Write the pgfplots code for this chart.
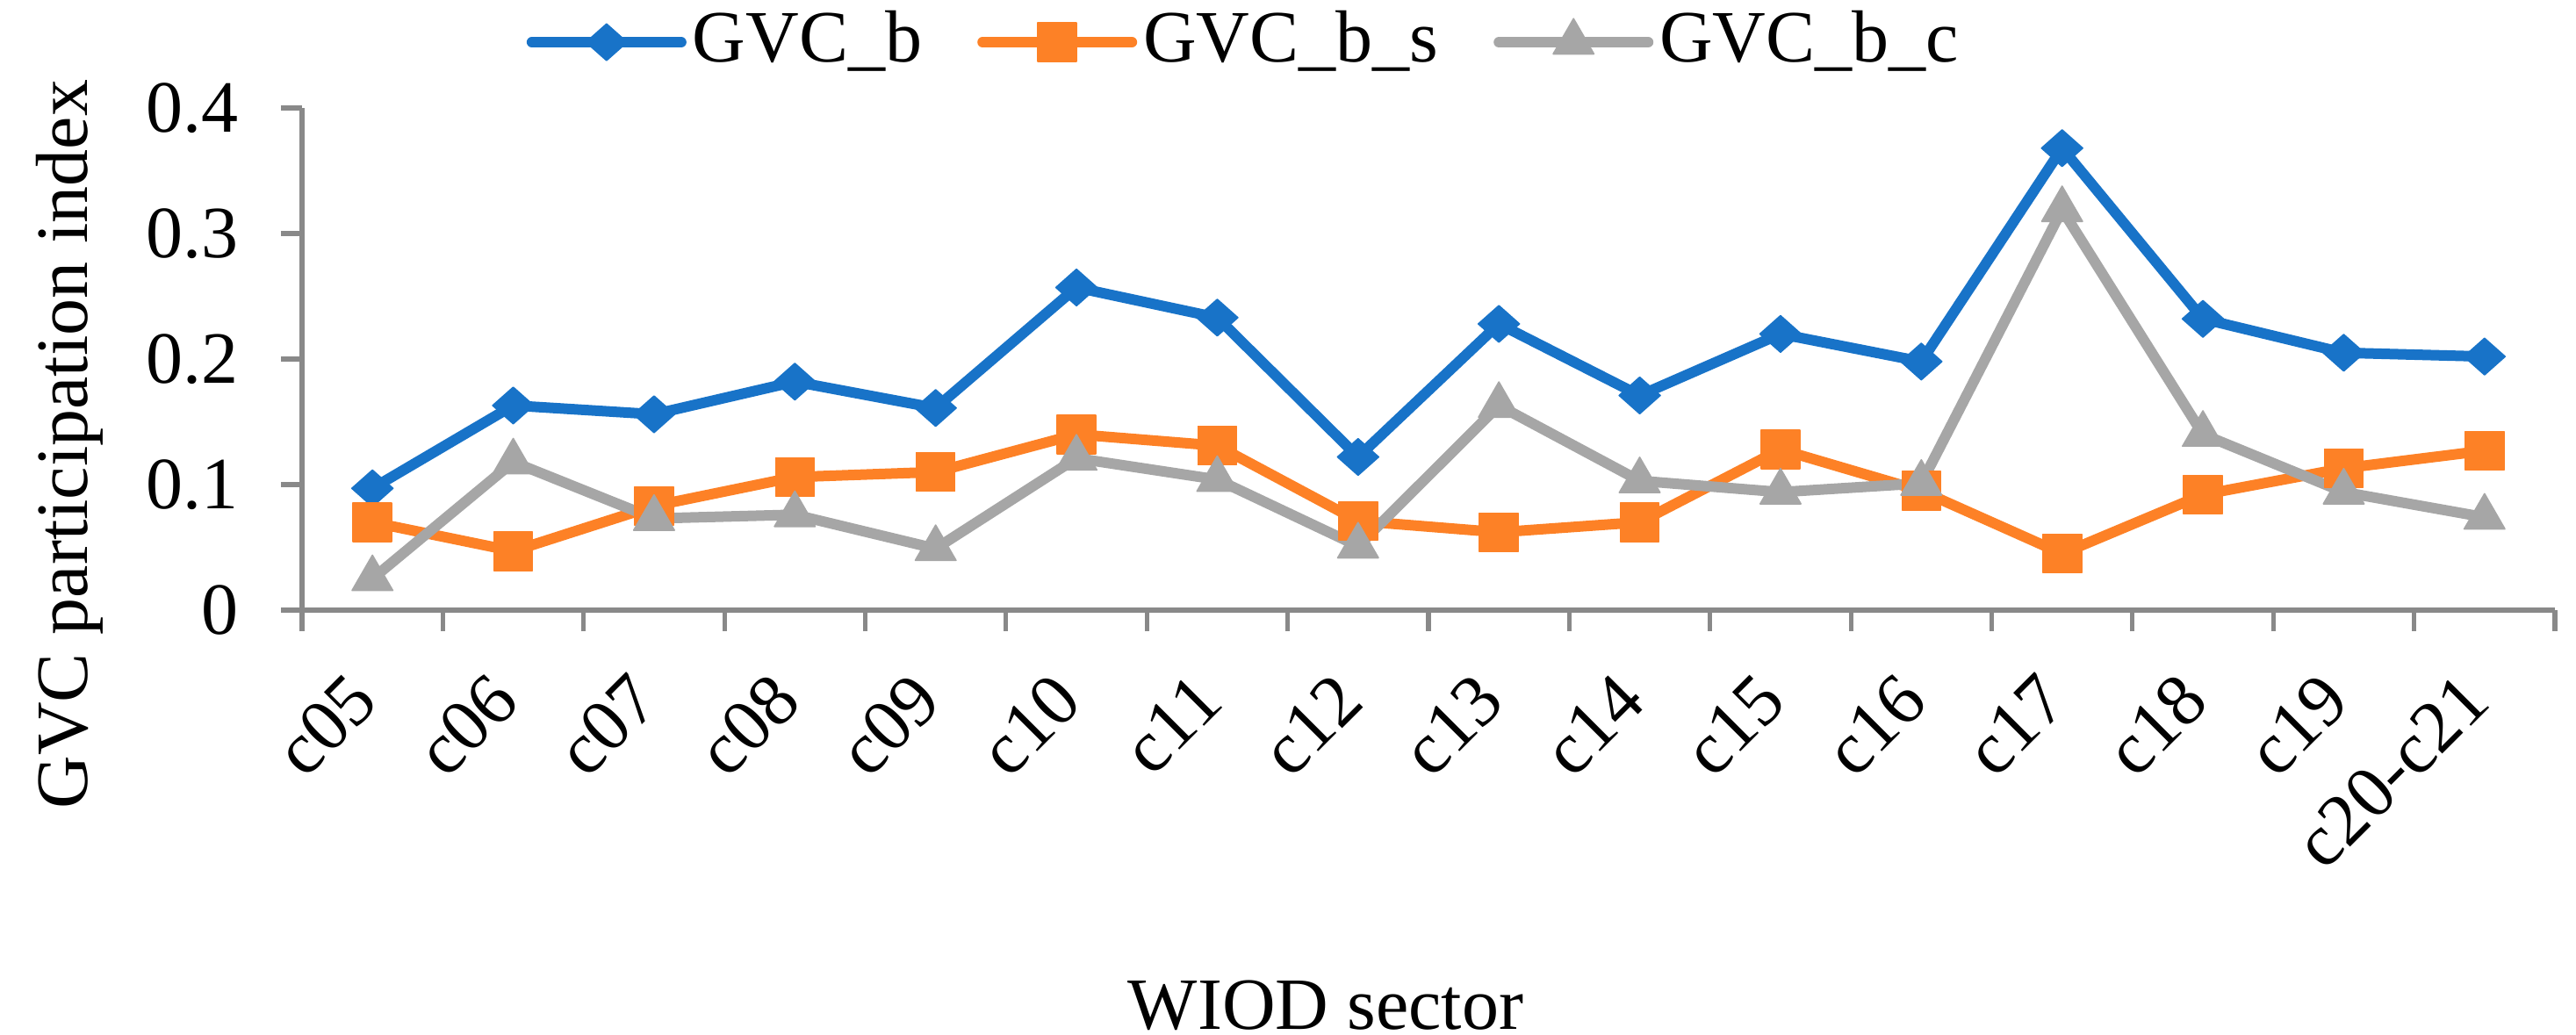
\documentclass[border=0pt]{standalone}
\usepackage{fontspec}
\setmainfont{Liberation Serif}
\usepackage{pgfplots}
\pgfplotsset{compat=1.18}
\definecolor{cblue}{HTML}{1873C8}
\definecolor{corange}{HTML}{FD8126}
\definecolor{cgray}{HTML}{A6A6A6}
\definecolor{caxis}{HTML}{898989}
\begin{document}
\fontsize{21}{25}\selectfont
\begin{tikzpicture}
\useasboundingbox (0,0) rectangle (733.5pt,294.5pt);
\begin{axis}[
  at={(86pt,120.75pt)}, anchor=south west,
  scale only axis, width=641.5pt, height=143pt,
  xmin=-0.5, xmax=15.5, ymin=0, ymax=0.4,
  clip=false,
  axis lines=left,
  axis line style={-, caxis, line width=1.5pt},
  xtick={-0.5,0.5,...,15.5},
  x tick label as interval,
  xticklabels={c05,c06,c07,c08,c09,c10,c11,c12,c13,c14,c15,c16,c17,c18,c19,c20-c21},
  ytick={0,0.1,0.2,0.3,0.4},
  yticklabels={0,0.1,0.2,0.3,0.4},
  tick align=outside, major tick length=6pt,
  tick style={caxis, line width=1.3pt},
  /pgf/number format/assume math mode=true,
  yticklabel style={inner sep=0pt, anchor=east, xshift=-12pt},
  xticklabel style={inner sep=0pt, xshift=2.5pt, yshift=-20.75pt, rotate=45, anchor=base east},
  xlabel={WIOD sector},
  ylabel={GVC participation index},
  xlabel style={at={(axis description cs:0.4544,-0.834)}, anchor=base, inner sep=0pt},
  ylabel style={at={(axis description cs:-0.0951,0.330)}, anchor=base, inner sep=0pt},
  legend image code/.code={\draw[mark repeat=2,mark phase=2,#1] plot coordinates {(0pt,0pt) (21.25pt,0pt) (42.5pt,0pt)};},
  legend style={at={(axis description cs:0.0994,1.131)}, anchor=west, draw=none, fill=none,
    inner sep=0pt, legend columns=-1, nodes={inner sep=1.75pt},
    /tikz/every even column/.append style={column sep=14pt}},
  legend cell align=left,
  every axis plot/.append style={line width=3pt, line cap=round, line join=round},
]
\addplot[cblue, mark=diamond*, mark size=5.2pt, mark options={solid, fill=cblue, draw=cblue, line width=0.4pt, xscale=1.5}] coordinates {
(0,0.097) (1,0.163) (2,0.156) (3,0.182) (4,0.161) (5,0.257) (6,0.233) (7,0.122)
(8,0.228) (9,0.171) (10,0.220) (11,0.198) (12,0.368) (13,0.232) (14,0.205) (15,0.202)};
\addplot[corange, mark=square*, mark size=5.5pt, mark options={solid, fill=corange, draw=corange, line width=0.4pt}] coordinates {
(0,0.070) (1,0.047) (2,0.083) (3,0.106) (4,0.110) (5,0.140) (6,0.131) (7,0.071)
(8,0.062) (9,0.070) (10,0.128) (11,0.095) (12,0.045) (13,0.092) (14,0.113) (15,0.127)};
\addplot[cgray, mark=triangle*, mark size=6.7pt, mark options={solid, fill=cgray, draw=cgray, line width=0.4pt}] coordinates {
(0,0.025) (1,0.118) (2,0.073) (3,0.076) (4,0.049) (5,0.121) (6,0.104) (7,0.051)
(8,0.163) (9,0.103) (10,0.094) (11,0.101) (12,0.319) (13,0.140) (14,0.094) (15,0.074)};
\legend{GVC\_b, GVC\_b\_s, GVC\_b\_c}
\end{axis}
\end{tikzpicture}
\end{document}
